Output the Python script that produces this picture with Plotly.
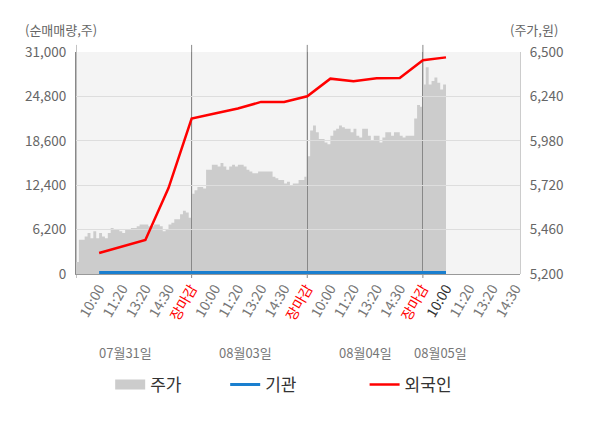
import plotly.graph_objects as go

# x axis: five slots per trading day (10:00, 11:20, 13:20, 14:30, 장마감)
days = ["07월31일", "08월03일", "08월04일", "08월05일"]
slot_labels = ["10:00", "11:20", "13:20", "14:30", "장마감"]
slots_per_day = 5

# 주가 (원), sampled 40 times per day
price_day1 = [5270, 5400, 5400, 5420, 5440, 5410, 5450, 5410, 5440, 5420,
              5410, 5440, 5470, 5460, 5460, 5450, 5440, 5460, 5460, 5470,
              5470, 5480, 5490, 5490, 5490, 5480, 5480, 5490, 5490, 5480,
              5450, 5460, 5490, 5500, 5520, 5520, 5550, 5570, 5560, 5530]
price_day2 = [5670, 5690, 5710, 5710, 5700, 5810, 5810, 5840, 5840, 5830,
              5850, 5830, 5810, 5830, 5840, 5830, 5840, 5840, 5830, 5810,
              5800, 5790, 5790, 5800, 5800, 5800, 5800, 5800, 5770, 5760,
              5750, 5750, 5730, 5740, 5720, 5730, 5730, 5750, 5750, 5770]
price_day3 = [5890, 6040, 6070, 6030, 5990, 5990, 5970, 5960, 6010, 6040,
              6050, 6070, 6060, 6050, 6050, 6030, 6050, 6010, 6000, 6050,
              6050, 6010, 5980, 6010, 6010, 5970, 6000, 6030, 6030, 6010,
              6030, 6030, 6010, 6000, 6010, 6010, 6010, 6110, 6190, 6180]
price_day4 = [6310, 6410, 6310, 6330, 6350, 6320, 6280, 6310]
samples_per_day = 40

# 순매매량 (주), one value per labelled slot from 07/31 10:00 to 08/05 10:00
net_slots = list(range(1, 17))
foreign_net = [2930, 3790, 4740, 12000, 21700, 22400, 23100, 24030,
               24030, 24820, 27280, 26910, 27330, 27380, 29840, 30250]
inst_net = [200, 200, 200, 200, 200, 200, 200, 200,
            200, 200, 200, 200, 200, 200, 200, 200]

net_ticks = [0, 6200, 12400, 18600, 24800, 31000]
price_ticks = [5200, 5460, 5720, 5980, 6240, 6500]

FONT = "Noto Sans CJK KR"
x_range = [0, 19.2]

# build the price step series
price_x, price_y = [], []
for d, vals in enumerate([price_day1, price_day2, price_day3, price_day4]):
    for i, v in enumerate(vals):
        price_x.append(d * slots_per_day + i * slots_per_day / samples_per_day)
        price_y.append(v)
price_x.append(price_x[-1] + slots_per_day / samples_per_day)
price_y.append(price_y[-1])

# tick labels
tick_vals = list(range(1, 20))
tick_text = []
for k in tick_vals:
    lab = slot_labels[(k - 1) % slots_per_day]
    if lab == "장마감":
        lab = f"<span style='color:#ff0000'>{lab}</span>"
    elif k == 16:
        lab = f"<span style='color:#333333'>{lab}</span>"
    tick_text.append(lab)

fig = go.Figure()

fig.add_trace(go.Scatter(
    x=price_x, y=price_y, xaxis="x", yaxis="y",
    mode="lines", line=dict(width=0, shape="hv", color="#cccccc"),
    fill="tozeroy", fillcolor="#cccccc", showlegend=False, hoverinfo="skip",
))
# legend swatch for 주가
fig.add_trace(go.Scatter(
    x=[None], y=[None], xaxis="x", yaxis="y", mode="lines",
    line=dict(color="#cccccc", width=12), name="주가", legend="legend",
))
fig.add_trace(go.Scatter(
    x=net_slots, y=inst_net, xaxis="x2", yaxis="y2",
    mode="lines", line=dict(color="#1a7fcf", width=3), name="기관", legend="legend2",
))
fig.add_trace(go.Scatter(
    x=net_slots, y=foreign_net, xaxis="x2", yaxis="y2",
    mode="lines", line=dict(color="#ff0000", width=2.5), name="외국인", legend="legend3",
))

shapes = [dict(type="rect", xref="paper", yref="paper", x0=0, x1=1, y0=0, y1=1,
               fillcolor="#f4f4f4", line=dict(width=0), layer="below")]
for v in [0, 5, 10, 15]:
    shapes.append(dict(type="line", xref="x2", yref="paper", x0=v, x1=v,
                       y0=-0.018, y1=1.032, line=dict(color="#888888", width=1),
                       layer="below"))

annotations = [
    dict(text="(순매매량,주)", xref="paper", yref="paper", x=-0.12, y=1.1,
         xanchor="left", yanchor="middle", showarrow=False,
         font=dict(size=13, color="#666666")),
    dict(text="(주가,원)", xref="paper", yref="paper", x=1.09, y=1.1,
         xanchor="right", yanchor="middle", showarrow=False,
         font=dict(size=13, color="#666666")),
]
for name, xpos in zip(days, [2.12, 7.31, 12.5, 15.75]):
    annotations.append(dict(text=name, xref="x2", yref="paper", x=xpos, y=-0.355,
                            xanchor="center", yanchor="middle", showarrow=False,
                            font=dict(size=13, color="#777777")))

legend_style = dict(orientation="h", y=-0.5, yanchor="middle", xanchor="left",
                    font=dict(size=17, color="#333333"), bgcolor="rgba(0,0,0,0)")

# page body has an 8px margin, so the figure is 8px smaller each way
fig.update_layout(
    width=592, height=420,
    margin=dict(l=68, r=80, t=44, b=154),
    paper_bgcolor="white", plot_bgcolor="rgba(0,0,0,0)",
    font=dict(family=FONT, size=13, color="#666666"),
    showlegend=True,
    legend=dict(legend_style, x=0.077),
    legend2=dict(legend_style, x=0.336),
    legend3=dict(legend_style, x=0.65),
    xaxis=dict(domain=[0, 1], range=x_range, visible=False, anchor="y"),
    yaxis=dict(side="right", range=[5200, 6500], tickvals=price_ticks, tickformat=",",
               showgrid=False, zeroline=False, showline=True, linecolor="#cccccc",
               ticks="", anchor="x", ticklabelstandoff=6,
               tickfont=dict(size=13.5, color="#666666")),
    xaxis2=dict(domain=[0, 1], range=x_range, anchor="y2", tickvals=tick_vals,
                ticktext=tick_text, tickangle=-60, showgrid=False, zeroline=False,
                showline=True, linecolor="#999999", ticks="",
                tickfont=dict(size=14, color="#777777"),
                minor=dict(tickvals=[5, 10, 15], showgrid=True, gridcolor="#888888",
                           gridwidth=1, ticks="")),
    yaxis2=dict(side="left", range=[0, 31000], tickvals=net_ticks, tickformat=",",
                gridcolor="#dddddd", showline=True, linecolor="#888888",
                zeroline=False, ticks="", anchor="x2", ticklabelstandoff=6,
                tickfont=dict(size=13.5, color="#666666")),
    shapes=shapes,
    annotations=annotations,
)

fig.write_html("out.html")
